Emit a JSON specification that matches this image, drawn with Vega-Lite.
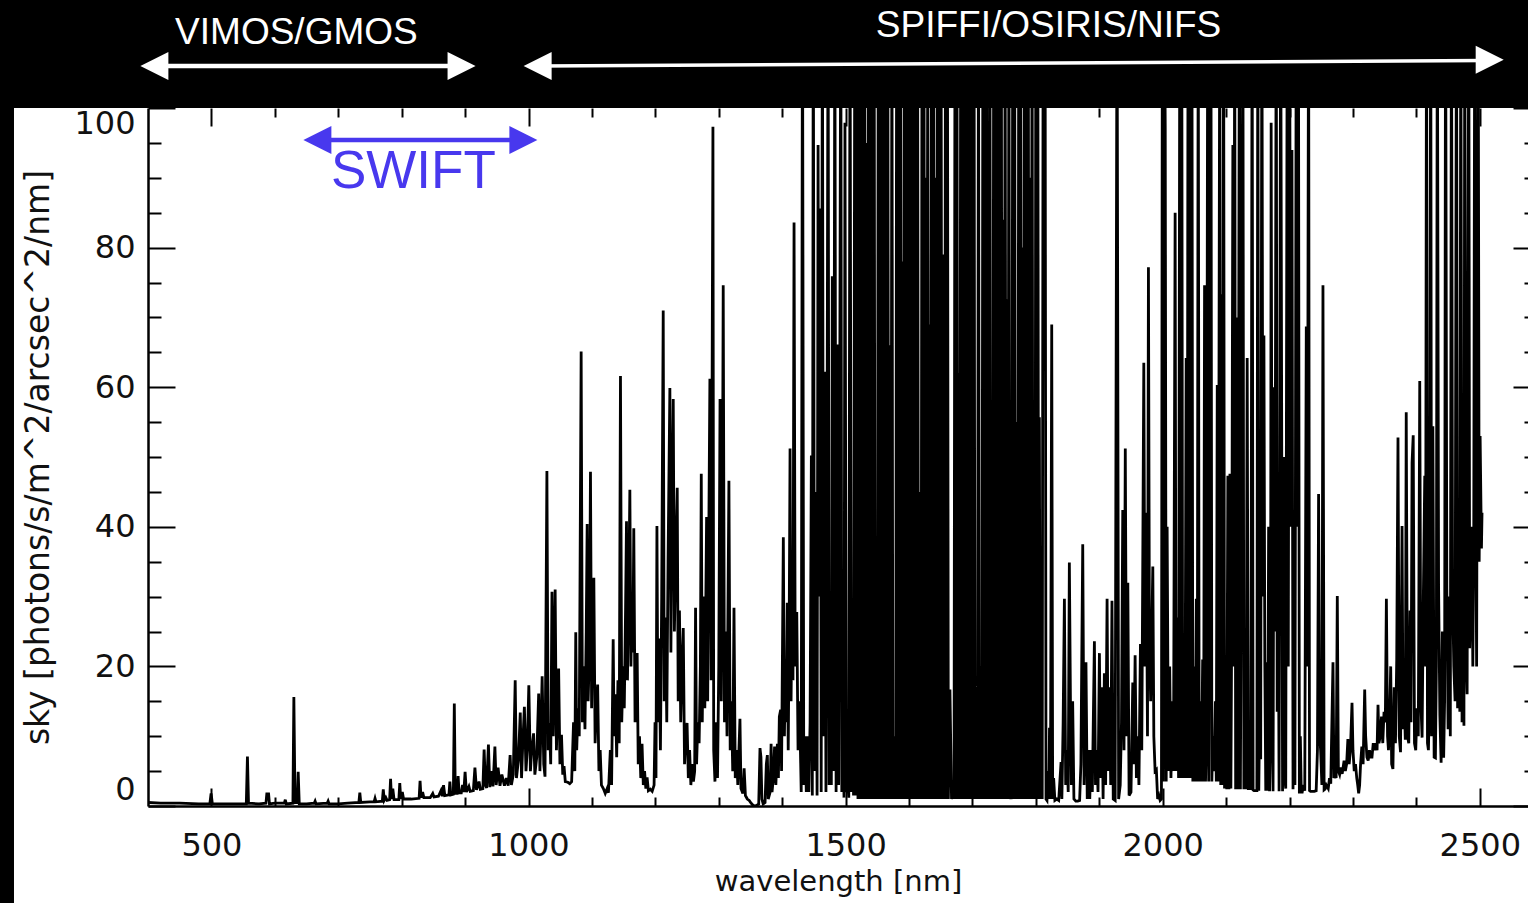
{
"$schema":"https://vega.github.io/schema/vega-lite/v6.json",
"width":1380,"height":698,
"autosize":{"type":"none"},
"padding":{"left":148,"top":108,"right":0,"bottom":97},
"background":"white",
"config":{"view":{"stroke":null},"axis":{"grid":false},"font":"DejaVu Sans"},
"resolve":{"axis":{"x":"independent","y":"independent"}},
"data":{"values":[
{"w":400,"f":0.5},{"w":420,"f":0.4},{"w":450,"f":0.4},{"w":480,"f":0.3},{"w":497.5,"f":0.3},{"w":499.5,"f":1.8},{"w":501.5,"f":0.3},{"w":520,"f":0.3},{"w":540,"f":0.3},{"w":555,"f":0.3},{"w":556.8,"f":7.1},{"w":558.5,"f":0.4},{"w":575,"f":0.3},{"w":586,"f":0.4},{"w":587.5,"f":1.9},{"w":589,"f":0.8},{"w":590,"f":1.9},{"w":591.5,"f":0.3},{"w":600,"f":0.4},{"w":615,"f":0.4},{"w":616.5,"f":0.9},{"w":618,"f":0.3},{"w":628.5,"f":0.4},{"w":630,"f":15.6},{"w":631.8,"f":0.5},{"w":635.3,"f":0.5},{"w":636.8,"f":4.9},{"w":638.5,"f":0.3},{"w":650,"f":0.3},{"w":662,"f":0.4},{"w":663.5,"f":0.7},{"w":665,"f":0.3},{"w":682.5,"f":0.4},{"w":684,"f":0.7},{"w":685.5,"f":0.3},{"w":700,"f":0.3},{"w":715,"f":0.4},{"w":732.5,"f":0.5},{"w":734,"f":1.9},{"w":735.5,"f":0.5},{"w":750,"f":0.6},{"w":756.5,"f":0.6},{"w":758,"f":1.1},{"w":759.5,"f":0.6},{"w":769.5,"f":0.7},{"w":771,"f":2.4},{"w":772.5,"f":0.8},{"w":775,"f":1.2},{"w":777,"f":0.8},{"w":781,"f":0.9},{"w":782.5,"f":3.9},{"w":784,"f":1.0},{"w":786,"f":2.5},{"w":788,"f":0.9},{"w":795.5,"f":0.9},{"w":797,"f":3.3},{"w":798.5,"f":1.0},{"w":801,"f":2.0},{"w":803,"f":1.0},{"w":815,"f":1.0},{"w":827.5,"f":1.1},{"w":829,"f":3.6},{"w":830.5,"f":1.2},{"w":833,"f":2.0},{"w":835,"f":1.2},{"w":845,"f":1.2},{"w":849,"f":1.8},{"w":851,"f":1.3},{"w":858,"f":1.4},{"w":862,"f":2.2},{"w":864,"f":1.4},{"w":866,"f":3.0},{"w":868,"f":1.5},{"w":874.5,"f":1.6},{"w":876,"f":3.5},{"w":877.5,"f":1.6},{"w":881.5,"f":1.7},{"w":883,"f":14.7},{"w":884.5,"f":1.8},{"w":887.5,"f":1.8},{"w":889,"f":4.3},{"w":890.5,"f":1.9},{"w":894,"f":1.9},{"w":896,"f":3.0},{"w":898,"f":2.0},{"w":900,"f":4.9},{"w":902,"f":2.0},{"w":906,"f":2.8},{"w":908,"f":2.1},{"w":913,"f":2.2},{"w":915.5,"f":5.5},{"w":918,"f":2.3},{"w":922,"f":3.5},{"w":924,"f":2.4},{"w":928,"f":2.5},{"w":930,"f":8.1},{"w":932,"f":3.0},{"w":934,"f":2.6},{"w":936.8,"f":8.8},{"w":939,"f":2.7},{"w":942,"f":5.0},{"w":944,"f":2.8},{"w":947,"f":8.5},{"w":949,"f":3.0},{"w":952,"f":5.5},{"w":955,"f":2.9},{"w":958,"f":4.5},{"w":962,"f":2.9},{"w":965,"f":4.0},{"w":968,"f":2.9},{"w":971,"f":7.3},{"w":973,"f":3.0},{"w":976,"f":4.5},{"w":979,"f":18.0},{"w":981,"f":4.0},{"w":984,"f":6.5},{"w":987,"f":13.4},{"w":989,"f":4.0},{"w":991,"f":9.0},{"w":993.5,"f":14.2},{"w":996,"f":5.0},{"w":998,"f":8.0},{"w":1000.5,"f":17.3},{"w":1003,"f":5.0},{"w":1005,"f":8.0},{"w":1008,"f":10.4},{"w":1010,"f":4.5},{"w":1013,"f":7.0},{"w":1016,"f":16.1},{"w":1018,"f":5.0},{"w":1021.5,"f":18.6},{"w":1024,"f":6.0},{"w":1026,"f":4.2},{"w":1029,"f":48.0},{"w":1031,"f":8.0},{"w":1033,"f":11.9},{"w":1035,"f":6.0},{"w":1037,"f":30.7},{"w":1039,"f":10.0},{"w":1042,"f":31.0},{"w":1044,"f":8.0},{"w":1047.5,"f":19.7},{"w":1049.5,"f":6.0},{"w":1052,"f":10.2},{"w":1054,"f":4.5},{"w":1056,"f":5.7},{"w":1058,"f":3.5},{"w":1062,"f":3.4},{"w":1065,"f":3.2},{"w":1068,"f":3.5},{"w":1071,"f":12},{"w":1073,"f":5},{"w":1074.5,"f":24.9},{"w":1076,"f":8},{"w":1078,"f":14},{"w":1080,"f":10},{"w":1083,"f":65.1},{"w":1085,"f":12},{"w":1087,"f":20},{"w":1089,"f":11},{"w":1091,"f":25},{"w":1092.5,"f":40.4},{"w":1094,"f":15},{"w":1096,"f":22},{"w":1097.7,"f":47.9},{"w":1099.5,"f":14},{"w":1101,"f":25},{"w":1103,"f":32.7},{"w":1105,"f":9},{"w":1107,"f":14},{"w":1109,"f":17.4},{"w":1111,"f":5},{"w":1113,"f":8},{"w":1115,"f":3},{"w":1118,"f":2.5},{"w":1121,"f":1.8},{"w":1124,"f":2.5},{"w":1126,"f":1.9},{"w":1129,"f":8},{"w":1131,"f":3},{"w":1133.5,"f":23.9},{"w":1135,"f":10},{"w":1137,"f":16},{"w":1139,"f":7},{"w":1141,"f":18},{"w":1143,"f":9},{"w":1145,"f":61.6},{"w":1147,"f":12},{"w":1149,"f":20},{"w":1151,"f":14},{"w":1153,"f":28},{"w":1154.5,"f":40.8},{"w":1156,"f":18},{"w":1158,"f":30},{"w":1159.8,"f":45.3},{"w":1161.5,"f":20},{"w":1163,"f":30},{"w":1164.5,"f":22},{"w":1166,"f":39.8},{"w":1168,"f":12},{"w":1169.5,"f":18},{"w":1171.3,"f":21.9},{"w":1173,"f":6},{"w":1175,"f":10},{"w":1177,"f":4},{"w":1179,"f":8.9},{"w":1181,"f":3},{"w":1183,"f":5},{"w":1185,"f":2.5},{"w":1187,"f":4.1},{"w":1189,"f":2.2},{"w":1192,"f":2.4},{"w":1195,"f":2.1},{"w":1198,"f":3},{"w":1199.5,"f":12},{"w":1201,"f":4},{"w":1202.5,"f":40.1},{"w":1204,"f":12},{"w":1206,"f":24},{"w":1208,"f":8},{"w":1210,"f":30},{"w":1212.4,"f":71},{"w":1214,"f":15},{"w":1216,"f":27},{"w":1218,"f":12},{"w":1220,"f":35},{"w":1222.9,"f":59.9},{"w":1224.5,"f":22},{"w":1226,"f":40},{"w":1228.2,"f":58.3},{"w":1230,"f":25},{"w":1232,"f":35},{"w":1234.5,"f":45.6},{"w":1236,"f":15},{"w":1238,"f":28},{"w":1240,"f":12},{"w":1242,"f":20},{"w":1244,"f":25.5},{"w":1246,"f":6},{"w":1248,"f":10},{"w":1250,"f":11.9},{"w":1252,"f":4},{"w":1254,"f":8},{"w":1256,"f":3},{"w":1258,"f":6},{"w":1260,"f":3.5},{"w":1262,"f":5},{"w":1263.4,"f":28.4},{"w":1265,"f":6},{"w":1267,"f":12},{"w":1269,"f":9},{"w":1271,"f":20},{"w":1272.4,"f":47.6},{"w":1274,"f":12},{"w":1276,"f":30},{"w":1278,"f":14},{"w":1280.8,"f":41.4},{"w":1282.5,"f":15},{"w":1284,"f":35},{"w":1286,"f":61.2},{"w":1288,"f":18},{"w":1290.8,"f":97.3},{"w":1292,"f":8},{"w":1294,"f":3.5},{"w":1296,"f":12},{"w":1298,"f":4},{"w":1300,"f":20},{"w":1302,"f":58.3},{"w":1304,"f":15},{"w":1305.5,"f":35},{"w":1307,"f":74.6},{"w":1309,"f":12},{"w":1311,"f":25},{"w":1313,"f":10},{"w":1316,"f":46.6},{"w":1318,"f":8},{"w":1320,"f":15},{"w":1322,"f":5},{"w":1324,"f":28.4},{"w":1326,"f":4},{"w":1328,"f":8},{"w":1330,"f":3},{"w":1333.4,"f":12.5},{"w":1335,"f":2.5},{"w":1338,"f":1.8},{"w":1340,"f":5.4},{"w":1342,"f":1.5},{"w":1345,"f":1.0},{"w":1348,"f":0.8},{"w":1351,"f":0.4},{"w":1354,"f":0.1},{"w":1357,"f":0.0},{"w":1360,"f":0.1},{"w":1363,"f":0.3},{"w":1365,"f":8.3},{"w":1366.5,"f":7},{"w":1368,"f":1},{"w":1370,"f":0.3},{"w":1373,"f":0.5},{"w":1375,"f":6},{"w":1376.6,"f":7.3},{"w":1378,"f":1},{"w":1381,"f":2},{"w":1382.5,"f":8.9},{"w":1384,"f":2},{"w":1386,"f":4},{"w":1388,"f":8.5},{"w":1390,"f":3},{"w":1392.4,"f":8.9},{"w":1394,"f":4},{"w":1395.5,"f":12.8},{"w":1397.6,"f":13.8},{"w":1399,"f":5},{"w":1401.8,"f":38.5},{"w":1403.5,"f":10},{"w":1405,"f":20},{"w":1406.5,"f":12},{"w":1408,"f":29.1},{"w":1409.5,"f":8},{"w":1411,"f":25},{"w":1412.4,"f":51.2},{"w":1414,"f":15},{"w":1415.5,"f":30},{"w":1417,"f":18},{"w":1418.7,"f":83.6},{"w":1420.5,"f":20},{"w":1423,"f":27.8},{"w":1425,"f":8},{"w":1426.5,"f":15},{"w":1428,"f":11.5},{"w":1430,"f":2},{"w":1432,"f":120},{"w":1434,"f":3},{"w":1436,"f":10},{"w":1438,"f":2},{"w":1440,"f":10},{"w":1442,"f":2},{"w":1444,"f":12},{"w":1446,"f":50.2},{"w":1447.5,"f":1.5},{"w":1449,"f":120},{"w":1451,"f":5},{"w":1453,"f":45},{"w":1455,"f":1.5},{"w":1456.6,"f":94.7},{"w":1458,"f":30},{"w":1460,"f":85.6},{"w":1461.5,"f":2},{"w":1463.4,"f":120},{"w":1465,"f":10},{"w":1467,"f":62.2},{"w":1469,"f":2},{"w":1470.5,"f":40},{"w":1472.4,"f":120},{"w":1474,"f":3},{"w":1476,"f":23.2},{"w":1477.5,"f":3},{"w":1479,"f":75.9},{"w":1481,"f":5},{"w":1483,"f":120},{"w":1485,"f":2},{"w":1487,"f":66.1},{"w":1489,"f":3},{"w":1490.5,"f":50},{"w":1492.4,"f":120},{"w":1494,"f":2},{"w":1496,"f":10},{"w":1497.5,"f":1.2},{"w":1499,"f":97.9},{"w":1501,"f":2},{"w":1503,"f":3.7},{"w":1505,"f":1.2},{"w":1507,"f":120},{"w":1509,"f":2},{"w":1511,"f":18},{"w":1512.5,"f":1.5},{"w":1514.5,"f":120},{"w":1516,"f":1.5},
{"w":1518,"f":120},{"w":1519.5,"f":1},{"w":1521,"f":120},{"w":1522.5,"f":1},{"w":1524,"f":110},{"w":1525.5,"f":1},{"w":1527,"f":120},{"w":1528.5,"f":1},{"w":1530,"f":120},{"w":1531.5,"f":1},{"w":1533,"f":95},{"w":1534.5,"f":1},{"w":1536,"f":120},{"w":1537.5,"f":1},{"w":1539,"f":120},{"w":1540.5,"f":1},{"w":1542,"f":120},{"w":1543.5,"f":1},{"w":1545,"f":120},{"w":1546.5,"f":1},{"w":1548.5,"f":26.5},{"w":1550,"f":1},{"w":1551.5,"f":120},{"w":1553,"f":1},{"w":1554.5,"f":120},{"w":1556,"f":1},{"w":1557.5,"f":100},{"w":1559,"f":1},{"w":1560.5,"f":120},{"w":1562,"f":1},{"w":1563.5,"f":120},{"w":1565,"f":1},{"w":1566.5,"f":120},{"w":1568,"f":1},{"w":1570,"f":66},{"w":1571.5,"f":1},{"w":1573,"f":120},{"w":1574.5,"f":1},{"w":1577.5,"f":10},{"w":1579,"f":1},{"w":1580.5,"f":120},{"w":1582,"f":1},{"w":1583.5,"f":120},{"w":1585,"f":1},{"w":1586.5,"f":120},{"w":1588,"f":1},{"w":1589.5,"f":78},{"w":1591,"f":1},{"w":1592.5,"f":120},{"w":1594,"f":1},{"w":1595.5,"f":120},{"w":1597,"f":1},{"w":1598.5,"f":120},{"w":1600,"f":1},{"w":1601.5,"f":120},{"w":1603,"f":1},{"w":1604.5,"f":120},{"w":1606,"f":1},{"w":1607.5,"f":120},{"w":1609,"f":1},{"w":1610.5,"f":120},{"w":1612,"f":1},{"w":1613.5,"f":120},{"w":1615,"f":1},{"w":1617.5,"f":45},{"w":1619,"f":1},{"w":1620.5,"f":120},{"w":1622,"f":1},{"w":1623.5,"f":120},{"w":1625,"f":1},{"w":1626.5,"f":90},{"w":1628,"f":1},{"w":1629.5,"f":120},{"w":1631,"f":1},{"w":1632.5,"f":69},{"w":1634,"f":1},{"w":1635.5,"f":120},{"w":1637,"f":1},{"w":1638.5,"f":120},{"w":1640,"f":1},{"w":1641.5,"f":90},{"w":1643,"f":1},{"w":1644.5,"f":120},{"w":1646,"f":1},{"w":1647.5,"f":120},{"w":1649,"f":1},{"w":1650.5,"f":120},{"w":1652,"f":1},{"w":1654.5,"f":79},{"w":1656,"f":1},{"w":1657.5,"f":120},{"w":1659,"f":1},{"w":1660.5,"f":120},{"w":1662,"f":1},{"w":1664.5,"f":16.7},{"w":1667,"f":1},{"w":1669.5,"f":3.7},{"w":1671,"f":1},{"w":1672.5,"f":120},{"w":1674,"f":1},{"w":1675.5,"f":120},{"w":1677,"f":1},{"w":1678.5,"f":62},{"w":1680,"f":1},{"w":1681.5,"f":120},{"w":1683,"f":1},{"w":1684.5,"f":120},{"w":1686,"f":1},{"w":1687.5,"f":120},{"w":1689,"f":1},{"w":1690.5,"f":120},{"w":1692,"f":1},{"w":1693.5,"f":110},{"w":1695,"f":1},{"w":1696.5,"f":120},{"w":1698,"f":1},{"w":1699.5,"f":120},{"w":1701,"f":1},{"w":1702.5,"f":120},{"w":1704,"f":1},{"w":1706.5,"f":16},{"w":1708,"f":1},{"w":1709.5,"f":120},{"w":1711,"f":1},{"w":1713.5,"f":20},{"w":1715,"f":1},{"w":1716.5,"f":120},{"w":1718,"f":1},{"w":1719.5,"f":120},{"w":1721,"f":1},{"w":1722.5,"f":120},{"w":1724,"f":1},{"w":1725,"f":76},{"w":1726,"f":1},{"w":1727.5,"f":120},{"w":1729,"f":1},{"w":1730.5,"f":29},{"w":1732,"f":1},{"w":1733.5,"f":120},{"w":1735,"f":1},{"w":1736.5,"f":120},{"w":1738,"f":1},{"w":1739.5,"f":120},{"w":1741,"f":1},{"w":1742.5,"f":120},{"w":1744,"f":1},{"w":1745.5,"f":120},{"w":1747,"f":1},{"w":1748.5,"f":84},{"w":1750,"f":1},{"w":1751.5,"f":120},{"w":1753,"f":1},{"w":1754.5,"f":72.6},{"w":1756,"f":1},{"w":1757.5,"f":120},{"w":1759,"f":1},{"w":1760.5,"f":1.9},{"w":1762,"f":1},{"w":1763.5,"f":120},{"w":1765,"f":1},{"w":1766.5,"f":120},{"w":1768,"f":1},{"w":1770,"f":55},{"w":1771.5,"f":1},{"w":1773,"f":120},{"w":1774.5,"f":1},{"w":1776,"f":120},{"w":1777.5,"f":1},{"w":1779,"f":80},{"w":1780.5,"f":1},{"w":1782,"f":120},{"w":1783.5,"f":1},{"w":1785,"f":120},{"w":1786.5,"f":1},{"w":1788,"f":120},{"w":1789.5,"f":1},{"w":1791,"f":90},{"w":1792.5,"f":1},{"w":1794,"f":120},{"w":1795.5,"f":1},{"w":1797,"f":40},{"w":1798.5,"f":1},{"w":1800,"f":120},{"w":1801.5,"f":1},{"w":1803,"f":120},{"w":1804.5,"f":1},{"w":1805.5,"f":55.7},{"w":1807,"f":1},{"w":1808.5,"f":12},{"w":1810,"f":1},{"w":1811.5,"f":120},{"w":1813,"f":71},{"w":1814.5,"f":120},{"w":1816,"f":1},{"w":1817.5,"f":0.8},{"w":1819,"f":5},{"w":1820.5,"f":1},{"w":1821.5,"f":11.2},{"w":1823,"f":1},{"w":1825,"f":69},{"w":1826.5,"f":1},{"w":1828,"f":4},{"w":1830,"f":0.8},{"w":1833,"f":1},{"w":1836,"f":0.8},{"w":1839.7,"f":6.3},{"w":1841,"f":1},{"w":1843,"f":12},{"w":1845,"f":29.7},{"w":1847,"f":3},{"w":1849,"f":8},{"w":1851,"f":2},{"w":1852.8,"f":34.9},{"w":1854.5,"f":15.1},{"w":1856,"f":3},{"w":1858,"f":15},{"w":1860,"f":1},{"w":1863,"f":0.7},{"w":1866,"f":0.7},{"w":1869,"f":0.8},{"w":1871,"f":6},{"w":1873.9,"f":37.5},{"w":1876,"f":3},{"w":1879,"f":20.6},{"w":1881,"f":1},{"w":1883,"f":8},{"w":1885,"f":1},{"w":1887,"f":8},{"w":1889,"f":2},{"w":1892.3,"f":23.6},{"w":1894,"f":3},{"w":1896,"f":8},{"w":1898,"f":2},{"w":1900.2,"f":21.9},{"w":1902,"f":4},{"w":1904,"f":17},{"w":1906,"f":1},{"w":1908,"f":19},{"w":1910,"f":3},{"w":1912.3,"f":29.7},{"w":1914,"f":5},{"w":1916,"f":17},{"w":1918,"f":3},{"w":1920,"f":29.4},{"w":1922,"f":1},{"w":1925,"f":0.8},{"w":1928,"f":120},{"w":1930.5,"f":1},{"w":1933,"f":3},{"w":1935,"f":12},{"w":1937,"f":42.4},{"w":1939,"f":8},{"w":1941,"f":51.2},{"w":1943,"f":10},{"w":1945,"f":32},{"w":1947,"f":1.5},{"w":1950,"f":2},{"w":1952.8,"f":17.7},{"w":1954.5,"f":6},{"w":1956.5,"f":21.6},{"w":1958.5,"f":4},{"w":1960.5,"f":10},{"w":1962.5,"f":3},{"w":1964.9,"f":23.2},{"w":1967,"f":8},{"w":1970.2,"f":63.5},{"w":1972,"f":20},{"w":1974,"f":42},{"w":1976,"f":10},{"w":1977.5,"f":77.2},{"w":1979,"f":25},{"w":1981,"f":15},{"w":1984.4,"f":34.3},{"w":1986,"f":10},{"w":1988,"f":5},{"w":1990,"f":5.2},{"w":1992,"f":1},{"w":1994,"f":1.5},{"w":1996,"f":0.8},{"w":1998,"f":1},{"w":1999.5,"f":120},{"w":2001,"f":3.5},{"w":2002.5,"f":120},{"w":2004,"f":97},{"w":2005.5,"f":3.5},{"w":2007,"f":40},{"w":2009,"f":5},{"w":2011,"f":20},{"w":2013,"f":4},{"w":2015,"f":15},{"w":2017,"f":5},{"w":2019.6,"f":85},{"w":2021,"f":5},{"w":2023,"f":27},{"w":2025,"f":4},{"w":2027,"f":120},{"w":2028.5,"f":4},{"w":2030,"f":120},{"w":2031.5,"f":4},{"w":2033,"f":20},{"w":2035,"f":4},{"w":2037,"f":64.2},{"w":2038.5,"f":4},{"w":2040,"f":120},{"w":2041.5,"f":4},{"w":2043,"f":120},{"w":2044.5,"f":4},{"w":2046,"f":120},{"w":2047.5,"f":3.5},{"w":2049,"f":20},{"w":2051,"f":3.5},{"w":2053,"f":29.7},{"w":2054.5,"f":3.5},{"w":2056,"f":120},{"w":2057.5,"f":3.5},{"w":2059,"f":15},{"w":2061,"f":3.5},{"w":2063,"f":21},{"w":2064.5,"f":3.5},{"w":2066,"f":74.6},{"w":2067.5,"f":3.5},{"w":2069,"f":10},{"w":2071,"f":120},{"w":2072.5,"f":3.5},{"w":2074,"f":40},{"w":2076,"f":120},{"w":2077.5,"f":3.5},{"w":2079,"f":10},{"w":2081,"f":5},{"w":2083,"f":15},{"w":2084.5,"f":3.5},{"w":2086,"f":60.3},{"w":2087.5,"f":3.5},{"w":2090,"f":120},{"w":2091.5,"f":3},{"w":2093,"f":73.3},{"w":2094.5,"f":3},{"w":2096,"f":120},{"w":2097.5,"f":2.5},{"w":2099,"f":10},{"w":2101,"f":2.4},{"w":2102.7,"f":47.3},{"w":2104.5,"f":2.4},{"w":2106,"f":47.6},{"w":2107.5,"f":2.5},{"w":2109,"f":30},{"w":2110.6,"f":94.7},{"w":2112,"f":20},{"w":2113.5,"f":120},{"w":2115,"f":2.4},{"w":2117,"f":70},{"w":2118.5,"f":2.4},{"w":2121,"f":120},{"w":2122.5,"f":2.4},{"w":2124,"f":40},{"w":2126.4,"f":120},{"w":2128,"f":2.4},{"w":2130,"f":10},{"w":2131.5,"f":2.4},{"w":2133.2,"f":64.2},{"w":2135,"f":2.3},{"w":2137,"f":10},{"w":2139,"f":2.3},{"w":2141,"f":120},{"w":2142.5,"f":2.3},{"w":2144,"f":2.2},{"w":2147,"f":2.2},{"w":2148.5,"f":2.2},{"w":2150,"f":120},{"w":2151.5,"f":2.2},{"w":2153,"f":15},{"w":2154.5,"f":6.7},{"w":2156.4,"f":120},{"w":2158,"f":30},{"w":2159.6,"f":67.4},{"w":2161,"f":20.6},{"w":2162.5,"f":2.2},{"w":2164,"f":20.6},{"w":2165.5,"f":2.2},{"w":2167,"f":40},{"w":2168.5,"f":2.1},{"w":2170,"f":10},{"w":2171,"f":97.9},{"w":2172.5,"f":25},{"w":2174,"f":2.1},{"w":2175.5,"f":60},{"w":2177,"f":25},{"w":2179,"f":120},{"w":2180.5,"f":13.5},{"w":2182,"f":40},{"w":2183.5,"f":2.1},{"w":2186,"f":120},{"w":2187.5,"f":59},{"w":2189,"f":2.1},{"w":2191,"f":50},{"w":2192.5,"f":4},{"w":2194,"f":2.5},{"w":2196.4,"f":120},{"w":2198,"f":20},{"w":2200,"f":120},{"w":2202,"f":40},{"w":2203.8,"f":94},{"w":2205.5,"f":2.4},{"w":2207,"f":40},{"w":2208.5,"f":3},{"w":2210.6,"f":120},{"w":2212,"f":40},{"w":2214,"f":120},{"w":2215.5,"f":1.8},{"w":2217,"f":10},{"w":2218.5,"f":2.0},{"w":2220,"f":2.0},{"w":2222,"f":3},{"w":2224,"f":2.2},{"w":2226.4,"f":68.7},{"w":2228,"f":20},{"w":2230,"f":120},{"w":2231.5,"f":2.2},{"w":2233,"f":2.1},{"w":2236,"f":2.1},{"w":2239,"f":2.1},{"w":2242,"f":2.2},{"w":2244,"f":8},{"w":2245.8,"f":44.7},{"w":2247.5,"f":10},{"w":2249,"f":8},{"w":2251,"f":3},{"w":2252.7,"f":74.6},{"w":2254.5,"f":2.3},{"w":2256,"f":2.4},{"w":2258,"f":3.0},{"w":2261,"f":2.5},{"w":2263,"f":4},{"w":2265,"f":3.2},{"w":2268.5,"f":20.6},{"w":2270,"f":4},{"w":2272,"f":4.5},{"w":2273.5,"f":4},{"w":2275.3,"f":30.1},{"w":2277,"f":5},{"w":2279,"f":4.5},{"w":2281,"f":5.5},{"w":2283,"f":4.6},{"w":2286,"f":6.5},{"w":2288,"f":5},{"w":2290,"f":6},{"w":2292,"f":9.6},{"w":2294,"f":6},{"w":2296,"f":8},{"w":2298.5,"f":14.8},{"w":2300,"f":8},{"w":2302,"f":5},{"w":2304,"f":6},{"w":2306,"f":4},{"w":2307.5,"f":3},{"w":2309,"f":1.8},{"w":2310.5,"f":3},{"w":2312,"f":6},{"w":2314,"f":8.5},{"w":2316,"f":6},{"w":2318.5,"f":16.7},{"w":2320,"f":10},{"w":2322,"f":7},{"w":2324,"f":6.5},{"w":2326,"f":8},{"w":2328,"f":7},{"w":2330,"f":7},{"w":2332,"f":9},{"w":2334,"f":8},{"w":2336,"f":9},{"w":2338,"f":8},{"w":2339.5,"f":14.5},{"w":2341,"f":9},{"w":2343,"f":10},{"w":2345,"f":12.8},{"w":2347,"f":9},{"w":2349,"f":13.5},{"w":2351,"f":12},{"w":2352.7,"f":29.7},{"w":2354.5,"f":10},{"w":2356,"f":8},{"w":2357.5,"f":11},{"w":2359.5,"f":20},{"w":2361,"f":6},{"w":2363,"f":5.3},{"w":2365,"f":17},{"w":2367,"f":9},{"w":2369,"f":21},{"w":2371,"f":52.8},{"w":2373,"f":10},{"w":2375,"f":7.7},{"w":2377.4,"f":40.1},{"w":2379,"f":11},{"w":2381,"f":15},{"w":2382.5,"f":9.5},{"w":2384,"f":56.4},{"w":2386,"f":10},{"w":2388,"f":9},{"w":2390,"f":28},{"w":2391.5,"f":12},{"w":2393.2,"f":49.2},{"w":2395,"f":53.1},{"w":2397,"f":9},{"w":2399,"f":8},{"w":2401,"f":14},{"w":2403,"f":10},{"w":2405.3,"f":60.9},{"w":2407,"f":15},{"w":2409,"f":9.8},{"w":2411,"f":30},{"w":2413.2,"f":47.3},{"w":2414.5,"f":20},{"w":2416,"f":120},{"w":2417.5,"f":9},{"w":2419,"f":8},{"w":2420.5,"f":15},{"w":2422.6,"f":120},{"w":2424,"f":10},{"w":2426,"f":54.4},{"w":2428,"f":7},{"w":2430,"f":6.9},{"w":2431.5,"f":20},{"w":2433,"f":120},{"w":2435,"f":31.7},{"w":2437,"f":13},{"w":2439,"f":6.2},{"w":2441,"f":25},{"w":2443,"f":6.9},{"w":2444.5,"f":15},{"w":2446,"f":120},{"w":2448,"f":31},{"w":2450,"f":11},{"w":2452,"f":30},{"w":2453.5,"f":10},{"w":2455.3,"f":120},{"w":2457,"f":31},{"w":2459,"f":20},{"w":2461,"f":15},{"w":2463.2,"f":120},{"w":2465,"f":14},{"w":2467,"f":35},{"w":2468.5,"f":13.5},{"w":2470,"f":120},{"w":2472,"f":12},{"w":2474,"f":25},{"w":2475,"f":11.5},{"w":2476.3,"f":120},{"w":2478,"f":23.2},{"w":2480,"f":16},{"w":2482.6,"f":120},{"w":2484,"f":22.6},{"w":2486,"f":30},{"w":2487.5,"f":40},{"w":2489,"f":20},{"w":2490.5,"f":39.9},{"w":2492,"f":120},{"w":2493.5,"f":44},{"w":2495,"f":20},{"w":2497.4,"f":120},{"w":2499,"f":35},{"w":2500.5,"f":53},{"w":2502.6,"f":36.9},{"w":2503.5,"f":42}
]},
"layer":[
{"mark":{"type":"line","color":"black","strokeWidth":2.8,"clip":true},
 "encoding":{
  "x":{"field":"w","type":"quantitative","scale":{"domain":[400,2576],"nice":false,"zero":false},
   "axis":{"orient":"bottom","values":[500,600,700,800,900,1000,1100,1200,1300,1400,1500,1600,1700,1800,1900,2000,2100,2200,2300,2400,2500],"format":"d","labelExpr":"datum.value % 500 === 0 ? datum.label : ''","tickSize":{"condition":{"test":"datum.value % 500 === 0","value":-18},"value":-9},"tickColor":"black","tickWidth":2,"domainColor":"black","domainWidth":2.5,"labelFont":"DejaVu Sans","labelFontSize":32,"labelColor":"#111","labelPadding":42,"labelOverlap":false,"labelFlush":false,"title":"wavelength [nm]","titleFont":"DejaVu Sans","titleFontSize":29,"titleFontWeight":"normal","titleColor":"#111","titlePadding":-3}},
  "y":{"field":"f","type":"quantitative","scale":{"domain":[0,100],"nice":false,"zero":false},
   "axis":{"orient":"left","values":[0,5,10,15,20,25,30,35,40,45,50,55,60,65,70,75,80,85,90,95,100],"labelExpr":"datum.value % 20 === 0 ? datum.label : ''","tickSize":{"condition":{"test":"datum.value % 20 === 0","value":-27},"value":-13},"tickColor":"black","tickWidth":2,"domainColor":"black","domainWidth":2.5,"labelFont":"DejaVu Sans","labelFontSize":32,"labelColor":"#111","labelPadding":40,"labelOverlap":false,"labelFlush":true,"title":"sky [photons/s/m^2/arcsec^2/nm]","titleFont":"DejaVu Sans","titleFontSize":33,"titleFontWeight":"normal","titleColor":"#111","titlePadding":18}}
 }},
{"mark":{"type":"line","opacity":0,"clip":true},
 "encoding":{
  "x":{"field":"w","type":"quantitative","axis":{"orient":"top","values":[500,600,700,800,900,1000,1100,1200,1300,1400,1500,1600,1700,1800,1900,2000,2100,2200,2300,2400,2500],"labels":false,"domain":false,"title":null,"tickSize":{"condition":{"test":"datum.value % 500 === 0","value":-18},"value":-9},"tickColor":"black","tickWidth":2}},
  "y":{"field":"f","type":"quantitative","axis":{"orient":"right","values":[0,5,10,15,20,25,30,35,40,45,50,55,60,65,70,75,80,85,90,95,100],"labels":false,"domain":false,"title":null,"tickSize":{"condition":{"test":"datum.value % 20 === 0","value":-15},"value":-4},"tickColor":"black","tickWidth":2}}
 }},
{"data":{"values":[{}]},"mark":{"type":"rect","color":"black","clip":false},
 "encoding":{"x":{"datum":150,"axis":null},"x2":{"datum":2700},"y":{"datum":100,"axis":null},"y2":{"datum":130}}},
{"data":{"values":[{}]},"mark":{"type":"rect","color":"black","clip":false},
 "encoding":{"x":{"datum":150,"axis":null},"x2":{"datum":188.7},"y":{"datum":-20,"axis":null},"y2":{"datum":130}}},
{"data":{"values":[{}]},"mark":{"type":"rule","color":"white","strokeWidth":4.5,"clip":false},
 "encoding":{"x":{"datum":404,"axis":null},"x2":{"datum":900},"y":{"datum":106,"axis":null}}},
{"data":{"values":[{}]},"mark":{"type":"point","shape":"M0,0L2,-1L2,1Z","size":784,"filled":true,"opacity":1,"color":"white","clip":false},
 "encoding":{"x":{"datum":388,"axis":null},"y":{"datum":106,"axis":null}}},
{"data":{"values":[{}]},"mark":{"type":"point","shape":"M0,0L-2,-1L-2,1Z","size":784,"filled":true,"opacity":1,"color":"white","clip":false},
 "encoding":{"x":{"datum":916.5,"axis":null},"y":{"datum":106,"axis":null}}},
{"data":{"values":[{}]},"mark":{"type":"text","text":"VIMOS/GMOS","font":"Liberation Sans","fontSize":37,"color":"white","align":"center","baseline":"middle","clip":false},
 "encoding":{"x":{"datum":634,"axis":null},"y":{"datum":110.7,"axis":null}}},
{"data":{"values":[{}]},"mark":{"type":"rule","color":"white","strokeWidth":3.5,"clip":false},
 "encoding":{"x":{"datum":1019,"axis":null},"x2":{"datum":2509},"y":{"datum":106,"axis":null},"y2":{"datum":106.8}}},
{"data":{"values":[{}]},"mark":{"type":"point","shape":"M0,0L2,-1L2,1Z","size":784,"filled":true,"opacity":1,"color":"white","clip":false},
 "encoding":{"x":{"datum":992.3,"axis":null},"y":{"datum":106,"axis":null}}},
{"data":{"values":[{}]},"mark":{"type":"point","shape":"M0,0L-2,-1L-2,1Z","size":784,"filled":true,"opacity":1,"color":"white","clip":false},
 "encoding":{"x":{"datum":2537.7,"axis":null},"y":{"datum":106.9,"axis":null}}},
{"data":{"values":[{}]},"mark":{"type":"text","text":"SPIFFI/OSIRIS/NIFS","font":"Liberation Sans","fontSize":37,"color":"white","align":"center","baseline":"middle","clip":false},
 "encoding":{"x":{"datum":1820,"axis":null},"y":{"datum":111.7,"axis":null}}},
{"data":{"values":[{}]},"mark":{"type":"rule","color":"#4838ee","strokeWidth":4.5,"clip":false},
 "encoding":{"x":{"datum":670,"axis":null},"x2":{"datum":990},"y":{"datum":95.4,"axis":null}}},
{"data":{"values":[{}]},"mark":{"type":"point","shape":"M0,0L2,-1L2,1Z","size":784,"filled":true,"opacity":1,"color":"#4838ee","clip":false},
 "encoding":{"x":{"datum":645,"axis":null},"y":{"datum":95.4,"axis":null}}},
{"data":{"values":[{}]},"mark":{"type":"point","shape":"M0,0L-2,-1L-2,1Z","size":784,"filled":true,"opacity":1,"color":"#4838ee","clip":false},
 "encoding":{"x":{"datum":1014,"axis":null},"y":{"datum":95.4,"axis":null}}},
{"data":{"values":[{}]},"mark":{"type":"text","text":"SWIFT","font":"Liberation Sans","fontSize":53,"color":"#4838ee","align":"center","baseline":"middle","clip":false},
 "encoding":{"x":{"datum":818.5,"axis":null},"y":{"datum":90.8,"axis":null}}}
]
}
